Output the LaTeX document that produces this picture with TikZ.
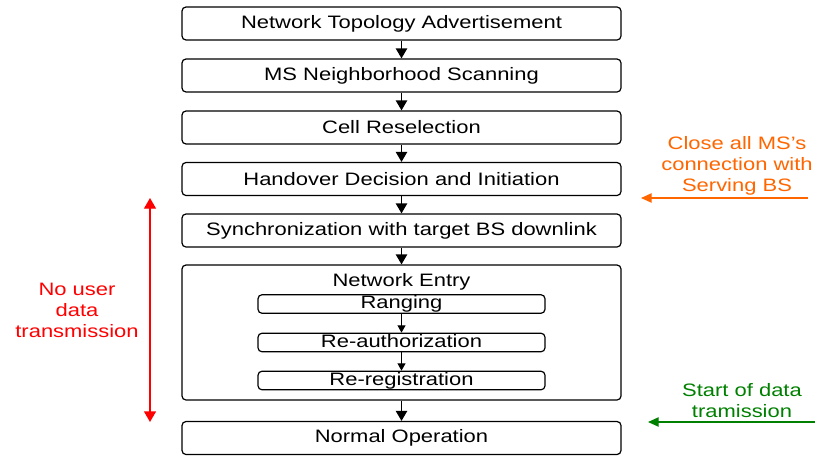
\documentclass[tikz,border=0pt]{standalone}
\usepackage{fontspec}
\setmainfont{Liberation Sans}[FakeStretch=1.22]
\usetikzlibrary{arrows.meta}
\definecolor{noteorange}{RGB}{255,102,0}
\definecolor{notegreen}{RGB}{0,128,0}
\definecolor{notered}{RGB}{255,0,0}
\begin{document}
\begin{tikzpicture}[x=0.75pt,y=-0.75pt,
  font=\fontsize{13.5}{15.75}\selectfont,
  stepbox/.style={draw, rounded corners=3pt, line width=0.9pt,
    minimum width=329.25pt, minimum height=24.75pt, inner sep=0pt},
  substep/.style={draw, rounded corners=3pt, line width=0.9pt,
    minimum width=215.25pt, minimum height=13.9pt, inner sep=0pt,
    text height=9.7pt, text depth=2.6pt},
  flow/.style={line width=1pt, -{Triangle[length=7.5pt,width=8.5pt]}},
  subflow/.style={line width=0.8pt, -{Triangle[length=5.5pt,width=6pt]}},
  note/.style={align=center},
  span/.style={line width=1pt, {Triangle[length=8pt,width=9pt]}-{Triangle[length=8pt,width=9pt]}},
  lead/.style={line width=1pt, -{Triangle[length=8pt,width=7pt]}}]
\useasboundingbox (0,0) rectangle (823,457);

% main handover sequence
\node[stepbox] (top)   at (401.5,23.5)  {Network Topology Advertisement};
\node[stepbox] (scan)  at (401.5,75.5)  {MS Neighborhood Scanning};
\node[stepbox] (resel) at (401.5,127.5) {Cell Reselection};
\node[stepbox] (ho)    at (401.5,179)   {Handover Decision and Initiation};
\node[stepbox] (sync)  at (401.5,230.5) {Synchronization with target BS downlink};

% network entry block with its sub-steps
\node[draw, rounded corners=3pt, line width=0.9pt, minimum width=329.25pt,
      minimum height=101.25pt, inner sep=0pt] (entry) at (401.5,332.5) {};
\node (entrytitle) at (401.5,281.5) {Network Entry};
\node[substep] (rng)  at (401.5,304)   {Ranging};
\node[substep] (auth) at (401.5,342.5) {Re-authorization};
\node[substep] (reg)  at (401.5,380.5) {Re-registration};

\node[stepbox] (normal) at (401.5,438) {Normal Operation};

\draw[flow] (top)   -- (scan);
\draw[flow] (scan)  -- (resel);
\draw[flow] (resel) -- (ho);
\draw[flow] (ho)    -- (sync);
\draw[flow] (sync)  -- (entry);
\draw[flow] (entry) -- (normal);
\draw[subflow] (rng)  -- (auth);
\draw[subflow] (auth) -- (reg);

% interruption span
\coordinate (spanA) at (150,198);
\coordinate (spanB) at (150,422);
\draw[span, notered] (spanA) -- (spanB);
\node[note, text=notered] (gap) at (77,310) {No user\\data\\transmission};

% side notes
\coordinate (closeA) at (808,198);
\coordinate (closeB) at (641,198);
\draw[lead, noteorange] (closeA) -- (closeB);
\node[note, text=noteorange] (close) at (737,166) {Close all MS’s\\connection with\\Serving BS};

\coordinate (startA) at (815,422);
\coordinate (startB) at (648,422);
\draw[lead, notegreen] (startA) -- (startB);
\node[note, text=notegreen] (start) at (742,400.5) {Start of data\\tramission};
\end{tikzpicture}
\end{document}
